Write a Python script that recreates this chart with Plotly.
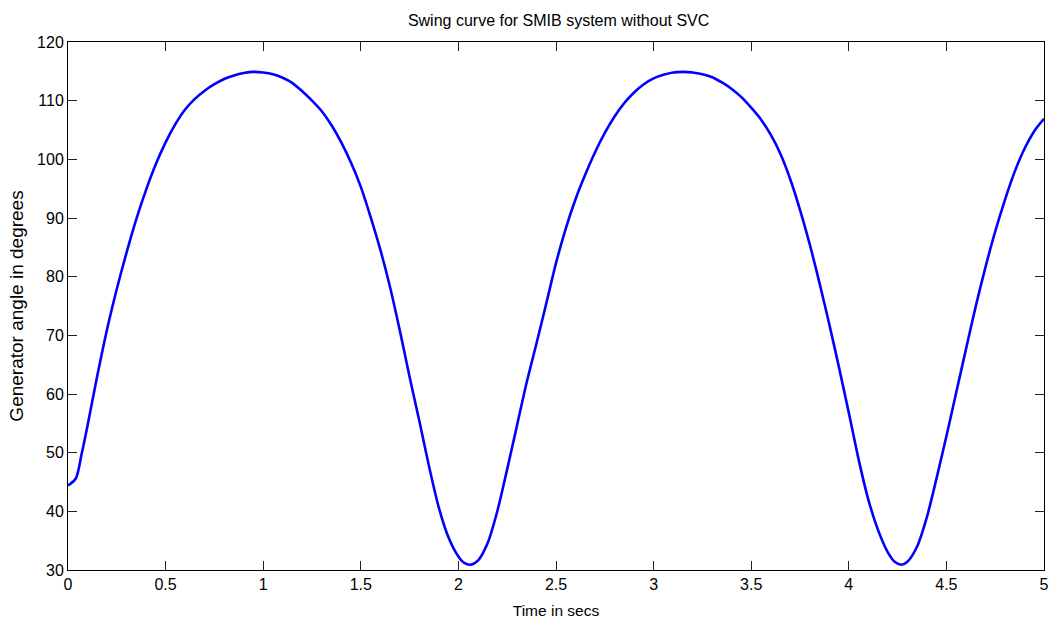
import plotly.graph_objects as go

time_s = [0.00, 0.04, 0.07, 0.10, 0.15, 0.20, 0.25, 0.30,
          0.35, 0.40, 0.45, 0.50, 0.55, 0.60, 0.65, 0.70, 0.75, 0.80,
          0.85, 0.90, 0.95, 1.00, 1.05, 1.10, 1.15, 1.20, 1.25, 1.30,
          1.35, 1.40, 1.45, 1.50, 1.55, 1.60, 1.65, 1.70, 1.75, 1.80,
          1.85, 1.90, 1.95, 2.00, 2.03, 2.063, 2.10, 2.15, 2.20, 2.25,
          2.30, 2.35, 2.40, 2.45, 2.50, 2.55, 2.60, 2.65, 2.70, 2.75,
          2.80, 2.85, 2.90, 2.95, 3.00, 3.05, 3.10, 3.15, 3.20, 3.25,
          3.30, 3.35, 3.40, 3.45, 3.50, 3.55, 3.60, 3.65, 3.70, 3.75,
          3.80, 3.85, 3.90, 3.95, 4.00, 4.05, 4.10, 4.15, 4.20, 4.235,
          4.27, 4.30, 4.35, 4.40, 4.45, 4.50, 4.55, 4.60, 4.65, 4.70,
          4.75, 4.80, 4.85, 4.90, 4.95, 5.00]

angle_deg = [44.4, 45.6, 49.8, 54.6, 63.1, 71.0, 77.9, 84.1,
             89.8, 94.8, 99.2, 102.9, 106.0, 108.5, 110.3, 111.7, 112.8, 113.7,
             114.3, 114.7, 114.9, 114.8, 114.5, 113.9, 113.0, 111.6, 110.0, 108.2,
             105.8, 102.9, 99.4, 95.3, 90.2, 84.6, 78.2, 70.8, 62.9, 55.4,
             47.6, 40.6, 35.5, 32.3, 31.2, 30.9, 31.6, 34.6, 40.1, 47.2,
             54.6, 62.0, 68.6, 75.4, 82.3, 88.2, 93.2, 97.4, 101.2, 104.5,
             107.3, 109.6, 111.4, 112.8, 113.8, 114.4, 114.8, 114.9, 114.8, 114.5,
             114.0, 113.1, 112.0, 110.6, 108.8, 106.8, 104.2, 100.9, 96.6, 91.4,
             85.5, 78.9, 71.9, 64.5, 56.8, 48.9, 42.0, 36.8, 33.0, 31.4,
             30.9, 31.4, 34.0, 39.0, 45.7, 52.8, 60.2, 67.6, 74.9, 81.6,
             87.7, 93.1, 97.9, 101.8, 104.8, 106.9]

x_ticks = [0, 0.5, 1, 1.5, 2, 2.5, 3, 3.5, 4, 4.5, 5]
x_tick_text = ["0", "0.5", "1", "1.5", "2", "2.5", "3", "3.5", "4", "4.5", "5"]
y_ticks = [30, 40, 50, 60, 70, 80, 90, 100, 110, 120]

FONT = "Liberation Sans, Arial, sans-serif"

fig = go.Figure()
fig.add_trace(go.Scatter(
    x=time_s, y=angle_deg, mode="lines",
    line=dict(color="#0000FF", width=2.6, shape="spline", smoothing=0.8),
    showlegend=False, hoverinfo="skip",
))

axis_common = dict(
    showline=True, linecolor="#000000", linewidth=1, mirror="ticks",
    ticks="inside", ticklen=9, tickcolor="#222222", tickwidth=1,
    showgrid=False, zeroline=False,
    tickfont=dict(family=FONT, size=16, color="#000000"),
)

fig.update_layout(
    width=1055, height=622,
    margin=dict(l=68, r=6, t=42, b=52),
    paper_bgcolor="#FFFFFF", plot_bgcolor="#FFFFFF",
    font=dict(family=FONT, color="#000000"),
    title=dict(text="Swing curve for SMIB system without SVC",
               x=0.5295, xanchor="center", y=0.967, yanchor="middle",
               font=dict(family=FONT, size=16, color="#000000")),
    xaxis=dict(range=[0, 5], tickvals=x_ticks, ticktext=x_tick_text,
               title=dict(text="Time in secs", standoff=12,
                          font=dict(family=FONT, size=15.5, color="#000000")),
               **axis_common),
    yaxis=dict(range=[30, 120], tickvals=y_ticks,
               title=dict(text="Generator angle in degrees", standoff=8,
                          font=dict(family=FONT, size=19, color="#000000")),
               **axis_common),
)

fig.write_html("out.html")
